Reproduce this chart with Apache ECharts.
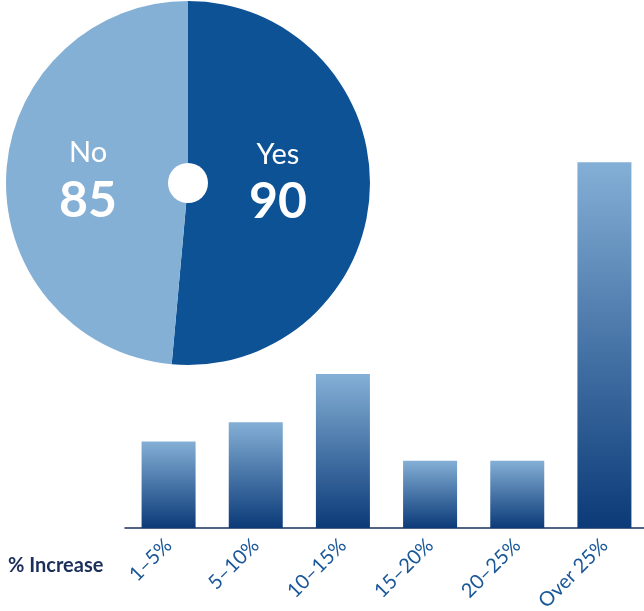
<!DOCTYPE html>
<html><head><meta charset="utf-8">
<script src="https://cdn.jsdelivr.net/npm/echarts@6/dist/echarts.min.js"></script>
<style>html,body{margin:0;padding:0;background:#fff}#c{width:644px;height:611px}</style>
</head><body><div id="c"></div>
<script>
const pieNames = ['Yes', 'No'];
const pieValues = [90, 85];
const pieColors = ['#0e5296', '#85b0d6'];
const barCategories = ['1–5%', '5–10%', '10–15%', '15–20%', '20–25%', 'Over 25%'];
const barValues = [9, 11, 16, 7, 7, 38];
const axisTitle = '% Increase';

const chart = echarts.init(document.getElementById('c'), null, {renderer: 'canvas'});
const labelOffsets = [[-4, -6], [-6, 1]];
const option = {
  animation: false,
  textStyle: {fontFamily: 'Lato'},
  grid: {left: 125, width: 523, top: 143, bottom: 83, containLabel: false, outerBoundsMode: 'none'},
  xAxis: {
    type: 'category', data: barCategories,
    axisLine: {lineStyle: {color: '#1a2f5e', width: 1.5}},
    axisTick: {show: false},
    axisLabel: {rotate: 45, margin: 14, padding: [26, 0, 0, 0], color: '#1a5799', fontSize: 20, fontFamily: 'Lato', interval: 0}
  },
  yAxis: {type: 'value', min: 0, max: 40, show: false},
  series: [
    {
      type: 'bar', data: barValues, barWidth: 54,
      itemStyle: {color: new echarts.graphic.LinearGradient(0, 0, 0, 1, [
        {offset: 0, color: '#84afd6'}, {offset: 1, color: '#0b3a78'}])}
    },
    {
      type: 'pie', center: [188, 183], radius: [0, 182], startAngle: 90, clockwise: true,
      silent: true,
      data: pieNames.map((n, i) => ({name: n, value: pieValues[i],
        itemStyle: {color: pieColors[i]}, label: {offset: labelOffsets[i]}})),
      label: {
        position: 'inside', color: '#fff', fontFamily: 'Lato',
        formatter: p => '{a|' + p.name + '}\n{b|' + p.value + '}',
        rich: {
          a: {fontSize: 29, lineHeight: 42, color: '#fff', fontFamily: 'Lato'},
          b: {fontSize: 50, fontWeight: 'bold', lineHeight: 54, color: '#fff', fontFamily: 'Lato'}
        }
      },
      labelLine: {show: false}
    },
    {
      type: 'pie', center: [188, 183], radius: [0, 20], silent: true,
      data: [{value: 1, itemStyle: {color: '#ffffff'}}], label: {show: false}
    }
  ],
  graphic: [{
    type: 'text', left: 8, top: 556,
    style: {text: axisTitle, fill: '#1b2f5a', font: 'bold 20px Lato'}
  }]
};
chart.setOption(option);
</script></body></html>
